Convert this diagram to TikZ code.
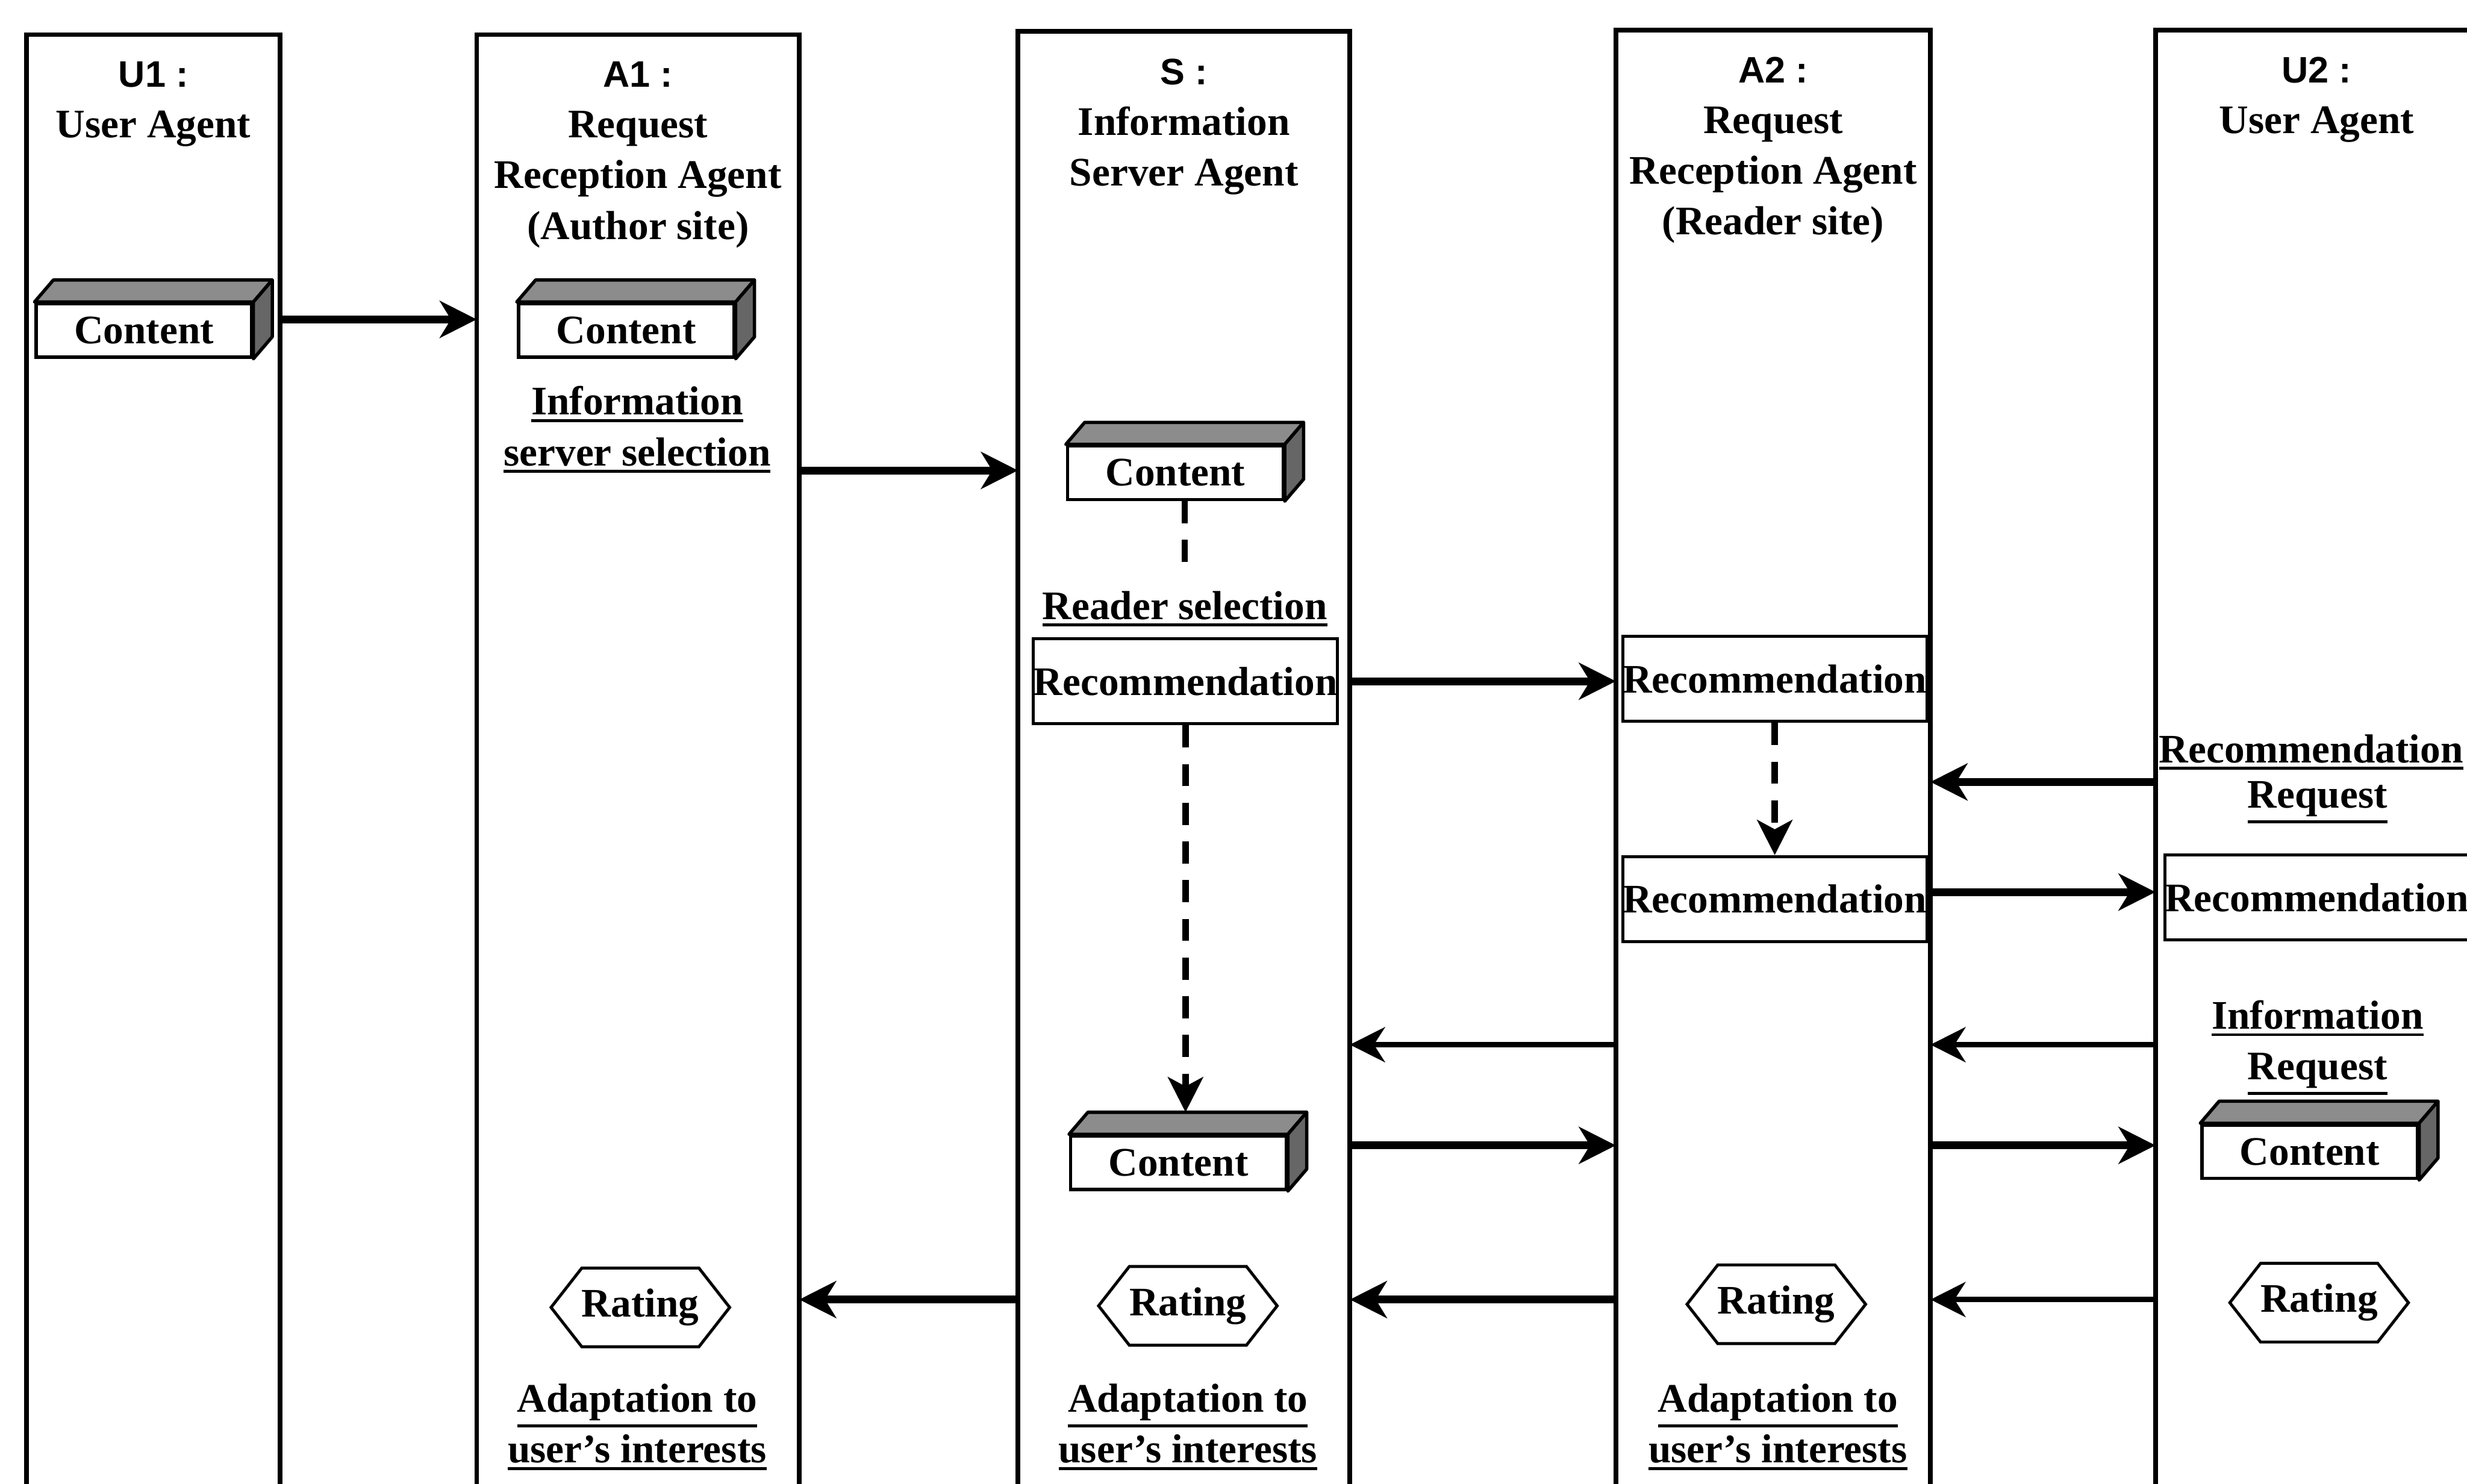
\documentclass[tikz,border=0pt]{standalone}
\usepackage{fontspec}
\setmainfont{Liberation Serif}
\newfontfamily\idfont{Liberation Sans}
\usetikzlibrary{positioning,arrows.meta,shapes.symbols}

% underlined text, rule under the descenders
\newcommand\ul[1]{\vtop{\hbox{#1}\kern2pt\hrule height 1.6pt}}
\newcommand\agentid[1]{{\idfont\fontsize{20pt}{27.5pt}\selectfont #1 :}}

% 3D "Content" box: front node plus top and side faces
\newcommand\contentbox[2]{%
  \node[cfront] (#1) at (#2) {Content};
  \filldraw[ctop] (#1.north west) -- ++(12,-14) -- ([shift={(12,-14)}]#1.north east) -- (#1.north east) -- cycle;
  \filldraw[cside] (#1.north east) -- ++(12,-14) -- ([shift={(12,-14)}]#1.south east) -- (#1.south east) -- cycle;
  \coordinate (#1top) at ([shift={(6,-14)}]#1.north);
  \coordinate (#1bot) at ([shift={(6,0)}]#1.south);
}

\begin{document}
\begin{tikzpicture}
    [x=0.03cm, y=-0.03cm,
    font=\fontsize{22pt}{27.5pt}\selectfont\bfseries,
    lane/.style={draw, line width=2.6pt, minimum width=#1*0.03cm, minimum height=1100*0.03cm,
      anchor=north, inner sep=0, outer sep=0},
    head/.style={align=center, anchor=north, inner sep=0},
    note/.style={align=center, inner sep=0},
    cfront/.style={draw, line width=1.8pt, fill=white, minimum width=137*0.03cm, minimum height=34*0.03cm, inner sep=0},
    ctop/.style={draw, line width=1.8pt, fill=black!45, line join=round},
    cside/.style={draw, line width=1.8pt, fill=black!60, line join=round},
    recbox/.style={draw, line width=1.7pt, minimum width=185*0.03cm, minimum height=54*0.03cm, inner sep=0},
    rating/.style={draw, line width=1.6pt, shape=signal, signal to=east and west, signal pointer angle=104,
      minimum width=107*0.03cm, minimum height=50*0.03cm, inner sep=0},
    flow/.style={line width=4.2pt, -{Stealth[length=20pt,width=20pt,inset=6pt]}},
    thinflow/.style={line width=2.8pt, -{Stealth[length=19pt,width=19pt,inset=6pt]}},
    dashl/.style={line width=3.4pt, dash pattern=on 12pt off 9pt},
    dasharr/.style={dashl, -{Stealth[length=19pt,width=19pt,inset=5pt]}}]

    \useasboundingbox (0,0) rectangle (1568,943);
    \clip (0,0) rectangle (1568,943);

    % lanes
    \node[lane=161] (u1) at (97.5,22) {};
    \node[lane=205] (a1) at (405.5,22) {};
    \node[lane=211] (s) at (752.5,20) {};
    \node[lane=200] (a2) at (1127,19) {};
    \node[lane=205] (u2) at (1472.5,19) {};

    \node[head, below=0.51cm of u1.north] (hu1) {\agentid{U1}\\User Agent};
    \node[head, below=0.51cm of a1.north] (ha1) {\agentid{A1}\\Request\\Reception Agent\\(Author site)};
    \node[head, below=0.51cm of s.north] (hs) {\agentid{S}\\Information\\Server Agent};
    \node[head, below=0.51cm of a2.north] (ha2) {\agentid{A2}\\Request\\Reception Agent\\(Reader site)};
    \node[head, below=0.51cm of u2.north] (hu2) {\agentid{U2}\\User Agent};

    % contents and messages
    \contentbox{cu1}{91.5,210}
    \contentbox{ca1}{398,210}
    \node[note] (isel) at (405,273) {\ul{Information}\\\ul{server selection}};
    \contentbox{cs1}{747,300.5}
    \node[note] (rsel) at (753,387) {\ul{Reader selection}};
    \node[recbox] (recs) at (753.5,433) {Recommendation};
    \contentbox{cs2}{749,739}
    \node[recbox] (reca) at (1128,431.5) {Recommendation};
    \node[recbox] (recb) at (1128,571.5) {Recommendation};
    \node[note, anchor=west] (rreq) at (1372,478) {\ul{Recommendation}};
    \node[note] (rreq2) at (1473,510) {\ul{Request}};
    \node[recbox] (recu) at (1472.5,570.5) {Recommendation};
    \node[note] (ireq) at (1473,666) {\ul{Information}\\\ul{Request}};
    \contentbox{cu2}{1468,732}

    \foreach \n/\x/\y in {ra1/407/831, rs/755/830, ra2/1129/829, ru2/1474/828}
      \node[rating] (\n) at (\x,\y) {Rating};
    \foreach \n/\x in {ada1/405, ads/755, ada2/1130}
      \node[note] (\n) at (\x,907) {\ul{Adaptation to}\\\ul{user’s interests}};

    % message rows
    \foreach \r/\yy in {r1/203, r2/299, r3/433, r4/497, r5/567, r6/664, r7/728, r8/826}
      \coordinate (\r) at (0,\yy);

    \draw[flow] (u1.east |- r1) -- (a1.west |- r1);
    \draw[flow] (a1.east |- r2) -- (s.west |- r2);
    \draw[flow] (s.east |- r3) -- (a2.west |- r3);
    \draw[flow] (u2.west |- r4) -- (a2.east |- r4);
    \draw[flow] (a2.east |- r5) -- (u2.west |- r5);
    \draw[thinflow] (a2.west |- r6) -- (s.east |- r6);
    \draw[thinflow] (u2.west |- r6) -- (a2.east |- r6);
    \draw[flow] (s.east |- r7) -- (a2.west |- r7);
    \draw[flow] (a2.east |- r7) -- (u2.west |- r7);
    \draw[flow] (s.west |- r8) -- (a1.east |- r8);
    \draw[flow] (a2.west |- r8) -- (s.east |- r8);
    \draw[thinflow] (u2.west |- r8) -- (a2.east |- r8);

    % internal steps
    \draw[dashl, shorten >=9pt] (cs1bot) -- (cs1bot |- rsel.north);
    \draw[dasharr] (recs.south) -- (recs.south |- cs2top);
    \draw[dasharr] (reca.south) -- (recb.north);
\end{tikzpicture}
\end{document}
